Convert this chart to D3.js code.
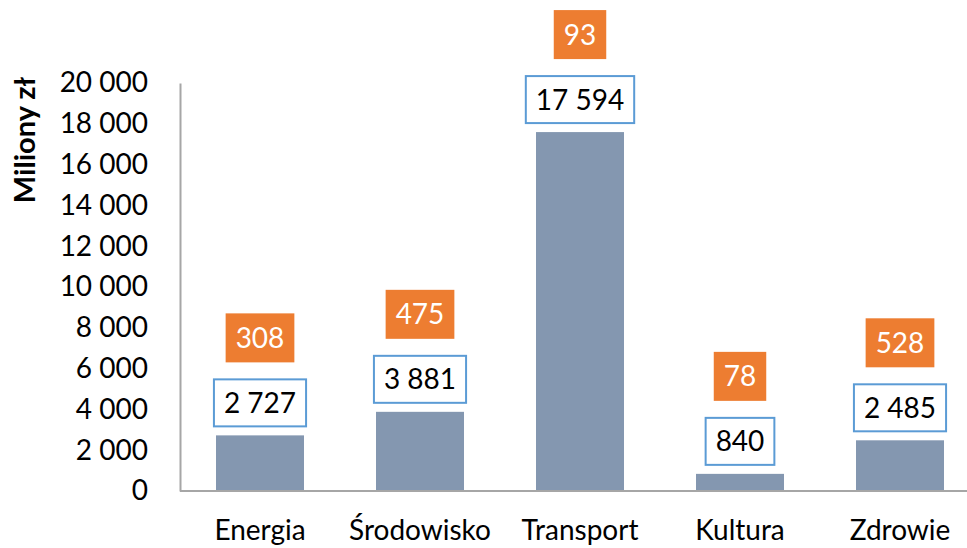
<!DOCTYPE html>
<html><head><meta charset="utf-8">
<script src="https://cdn.jsdelivr.net/npm/d3@7"></script>
<style>body{margin:0;background:#fff}svg{display:block}text{font-family:Lato,"Open Sans",sans-serif}</style>
</head><body>
<svg id="c" width="967" height="548"></svg>
<script>
const categories = ["Energia", "Środowisko", "Transport", "Kultura", "Zdrowie"];
const values = [2727, 3881, 17594, 840, 2485];
const counts = [308, 475, 93, 78, 528];
const yTicks = [0, 2000, 4000, 6000, 8000, 10000, 12000, 14000, 16000, 18000, 20000];
const yTitle = "Miliony zł";

(function () {
const loc = d3.formatLocale({thousands: "\u00a0", grouping: [3], decimal: ",", currency: ["", " zł"]});
const fmt = loc.format(",d");

const svg = d3.select("#c");
const mLeft = 180, mRight = 980, mTop = 83, mBottom = 491;
const x = d3.scaleBand().domain(categories).range([mLeft, mRight]).paddingInner(0.45).paddingOuter(0.225);
const y = d3.scaleLinear().domain([0, 20000]).range([mBottom, mTop]);
const fs = 28;

// y axis
const ya = svg.append("g").attr("transform", `translate(${mLeft},0)`)
  .call(d3.axisLeft(y).tickValues(yTicks).tickFormat(fmt).tickSize(0).tickPadding(32));
ya.select(".domain").attr("stroke", "#a6a6a6").attr("stroke-width", 2);
ya.selectAll("text").attr("font-size", fs).attr("fill", "#000").attr("font-family", "Lato");

// bars
svg.append("g").selectAll("rect").data(categories).join("rect")
  .attr("x", d => x(d)).attr("width", x.bandwidth())
  .attr("y", (d, i) => y(values[i])).attr("height", (d, i) => y(0) - y(values[i]))
  .attr("fill", "#8497b0");

// x axis
const xa = svg.append("g").attr("transform", `translate(0,${mBottom})`)
  .call(d3.axisBottom(x).tickSize(0).tickPadding(29));
xa.select(".domain").attr("stroke", "#a6a6a6").attr("stroke-width", 2).attr("d", `M${mLeft},0H967`);
xa.selectAll("text").attr("font-size", fs).attr("fill", "#000").attr("font-family", "Lato");

// value labels
const boxH = 47, gapBar = 9, gapBox = 17, padX = 10;
categories.forEach((c, i) => {
  const cx = x(c) + x.bandwidth() / 2;
  const by1 = y(values[i]) - gapBar;
  const g1 = svg.append("g");
  const r1 = g1.append("rect").attr("fill", "#fff").attr("stroke", "#5b9bd5").attr("stroke-width", 2);
  const t1 = g1.append("text").attr("x", cx).attr("y", by1 - boxH / 2).attr("dy", "0.36em")
    .attr("text-anchor", "middle").attr("font-size", fs).attr("fill", "#000").text(fmt(values[i]));
  const w1 = t1.node().getComputedTextLength() + 2 * padX;
  r1.attr("x", cx - w1 / 2).attr("y", by1 - boxH).attr("width", w1).attr("height", boxH);

  const by2 = by1 - boxH - gapBox;
  const g2 = svg.append("g");
  const r2 = g2.append("rect").attr("fill", "#ed7d31");
  const t2 = g2.append("text").attr("x", cx).attr("y", by2 - 49 / 2).attr("dy", "0.36em")
    .attr("text-anchor", "middle").attr("font-size", fs).attr("fill", "#fff").text(fmt(counts[i]));
  const w2 = t2.node().getComputedTextLength() + 2 * padX;
  r2.attr("x", cx - w2 / 2).attr("y", by2 - 49).attr("width", w2).attr("height", 49);
});

// y title
svg.append("text").attr("transform", "translate(35,140) rotate(-90)")
  .attr("text-anchor", "middle").attr("font-size", 29).attr("font-weight", "bold").attr("fill", "#000")
  .text(yTitle);
})();
</script>
</body></html>
